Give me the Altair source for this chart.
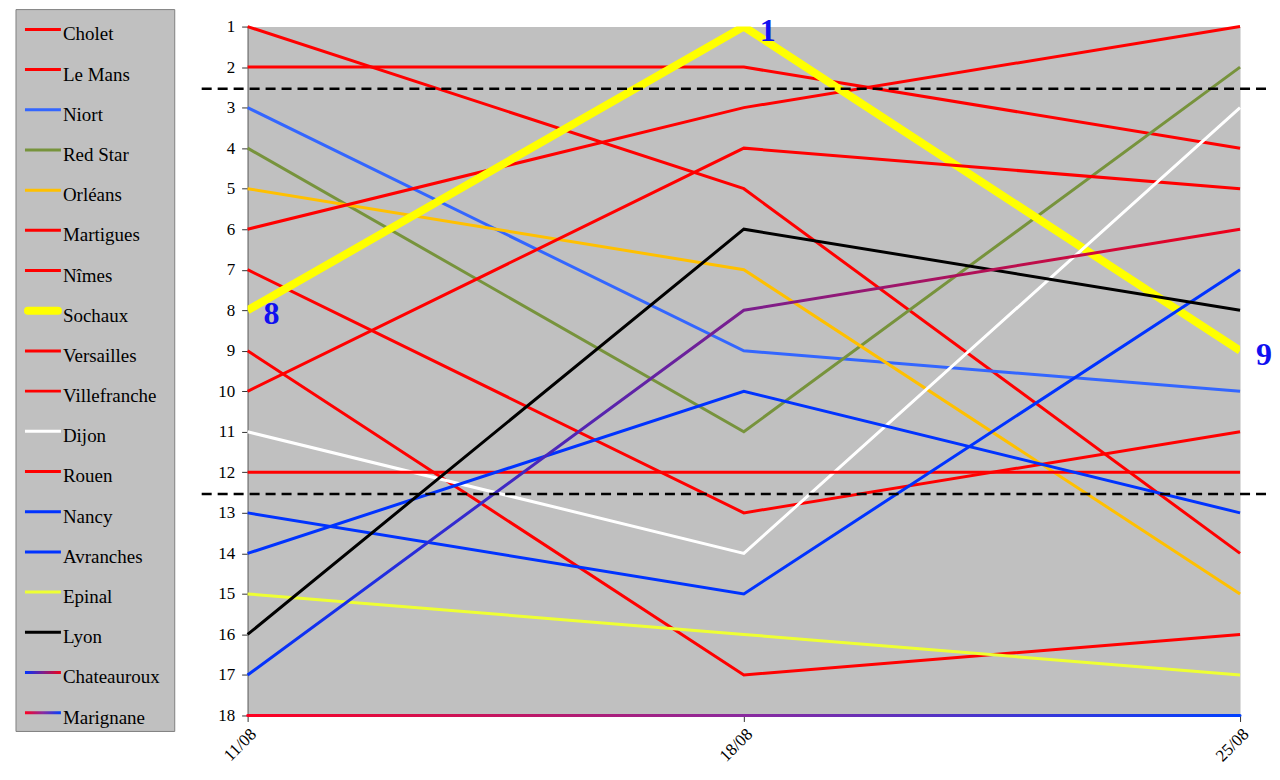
import json
import altair as alt
import pandas as pd

# ---------------- data ----------------
teams = ["Cholet", "Le Mans", "Niort", "Red Star", "Orléans", "Martigues", "Nîmes",
         "Sochaux", "Versailles", "Villefranche", "Dijon", "Rouen", "Nancy",
         "Avranches", "Epinal", "Lyon", "Chateauroux", "Marignane"]
dates = ["11/08", "18/08", "25/08"]
rank_1108 = [1, 2, 3, 4, 5, 6, 7, 8, 9, 10, 11, 12, 13, 14, 15, 16, 17, 18]
rank_1808 = [5, 2, 9, 11, 7, 3, 13, 1, 17, 4, 14, 12, 15, 10, 16, 6, 8, 18]
rank_2508 = [14, 4, 10, 2, 15, 1, 11, 9, 16, 5, 3, 12, 7, 13, 17, 8, 6, 18]
colors = ["#FF0000", "#FF0000", "#3366FF", "#77933C", "#FFC000", "#FF0000", "#FF0000",
          "#FFFF00", "#FF0000", "#FF0000", "#FFFFFF", "#FF0000", "#0033FF",
          "#0033FF", "#EEFF33", "#000000", "gradient", "gradient"]
line_widths = [3, 3, 3, 3, 3, 3, 3, 8, 3, 3, 3, 3, 3, 3, 3, 3, 3, 3]
rank_ticks = [1, 2, 3, 4, 5, 6, 7, 8, 9, 10, 11, 12, 13, 14, 15, 16, 17, 18]
zone_limits = [2.5, 12.5]
labelled_team = "Sochaux"

rows = []
for t, r1, r2, r3 in zip(teams, rank_1108, rank_1808, rank_2508):
    for k, r in enumerate([r1, r2, r3]):
        rows.append({"team": t, "day": k, "rank": r})
df = pd.DataFrame(rows)
legend_df = pd.DataFrame({"team": teams, "color": colors})

FONT = "Liberation Serif"

grad_chateauroux = alt.LinearGradient(
    gradient="linear", x1=0, x2=1, y1=0, y2=0,
    stops=[alt.GradientStop(offset=0, color="#0033FF"),
           alt.GradientStop(offset=0.5, color="#7A1E8E"),
           alt.GradientStop(offset=1, color="#F00018")])
grad_marignane = alt.LinearGradient(
    gradient="linear", x1=0, x2=1, y1=0, y2=0,
    stops=[alt.GradientStop(offset=0, color="#FF0020"),
           alt.GradientStop(offset=0.5, color="#8A2A9E"),
           alt.GradientStop(offset=1, color="#0040FF")])
gradients = {"Chateauroux": grad_chateauroux, "Marignane": grad_marignane}

# ---------------- scales / axes ----------------
x_scale = alt.Scale(domain=[0, 2], nice=False, zero=False)
y_scale = alt.Scale(domain=[1, 18], reverse=True, nice=False, zero=False)
x_axis = alt.Axis(values=[0, 1, 2], labelExpr=json.dumps(dates) + "[datum.value]",
                  labelAngle=-45, title=None, grid=False, labelPadding=4,
                  tickSize=6, domainColor="#808080")
y_axis = alt.Axis(values=rank_ticks, title=None, grid=False, orient="left",
                  labelPadding=7, tickSize=6, domainColor="#808080", domainWidth=1.5)

X = alt.X("day:Q", scale=x_scale, axis=x_axis)
Y = alt.Y("rank:Q", scale=y_scale, axis=y_axis)

# ---------------- main lines ----------------
main_layers = []
for t, c, w in zip(teams, colors, line_widths):
    base = alt.Chart(df).transform_filter(alt.datum.team == t)
    if t == "Marignane":
        m = base.mark_trail(color=gradients[t], size=3)
    elif t in gradients:
        m = base.mark_line(color=gradients[t], strokeWidth=w)
    elif w > 3:
        m = base.mark_line(color=c, strokeWidth=w, clip=True)
    else:
        m = base.mark_line(color=c, strokeWidth=w)
    main_layers.append(m.encode(x=X, y=Y))

labels = alt.Chart(df).transform_filter(alt.datum.team == labelled_team).mark_text(
    font=FONT, fontSize=32, fontWeight="bold", color="#1010F0",
    dx=24, dy=4, align="center", baseline="middle"
).encode(x=X, y=Y, text=alt.Text("rank:Q", format="d"))

rules = alt.Chart(pd.DataFrame({"limit": zone_limits})).mark_rule(
    color="black", strokeWidth=2.5, strokeDash=[10, 6], yOffset=1.5
).encode(y=alt.Y("limit:Q", scale=y_scale, axis=y_axis),
         x=alt.value(-46), x2=alt.value(1020))

main = alt.layer(*main_layers, labels, rules)

# ---------------- custom legend ----------------
LY = alt.Y("team:N", scale=alt.Scale(type="point", domain=teams, padding=0.07), axis=None)

box = alt.Chart(pd.DataFrame({"k": [0]})).mark_rect(
    fill="#C0C0C0", stroke="#808080", strokeWidth=1
).encode(x=alt.value(-232), x2=alt.value(-73), y=alt.value(-17), y2=alt.value(706))

thin_solid = [t for t, c, w in zip(teams, colors, line_widths) if c != "gradient" and w == 3]
thick_solid = [t for t, c, w in zip(teams, colors, line_widths) if c != "gradient" and w != 3]

sw_thin = alt.Chart(legend_df).transform_filter(
    alt.FieldOneOfPredicate(field="team", oneOf=thin_solid)
).mark_rule(strokeWidth=3).encode(
    x=alt.value(-223), x2=alt.value(-187), y=LY, color=alt.Color("color:N", scale=None))

sw_thick = alt.Chart(legend_df).transform_filter(
    alt.FieldOneOfPredicate(field="team", oneOf=thick_solid)
).mark_rule(strokeWidth=8, strokeCap="round").encode(
    x=alt.value(-220), x2=alt.value(-190), y=LY, color=alt.Color("color:N", scale=None))

bar_shape = "M-1,-0.085H1V0.085H-1Z"
sw_grad = []
for t, g in gradients.items():
    sw_grad.append(alt.Chart(legend_df).transform_filter(alt.datum.team == t).mark_point(
        shape=bar_shape, size=1296, filled=True, opacity=1, color=g, strokeWidth=0
    ).encode(x=alt.value(-205), y=LY))

legend_text = alt.Chart(legend_df).mark_text(
    font=FONT, fontSize=19, color="black", align="left", baseline="alphabetic", dy=11
).encode(x=alt.value(-185), y=LY, text="team:N")

legend = alt.layer(box, sw_thin, sw_thick, *sw_grad, legend_text)

chart = alt.layer(legend, main).resolve_scale(y="independent").properties(
    width=994, height=690,
    autosize=alt.AutoSizeParams(type="none"),
    padding={"left": 240, "top": 18, "right": 32, "bottom": 56},
).configure_view(fill="#C0C0C0", stroke="transparent").configure_axis(
    labelFont=FONT, labelFontSize=17, labelColor="black", tickColor="#333333"
)

chart.save("out.html", embed_options={"renderer": "svg", "actions": False})
